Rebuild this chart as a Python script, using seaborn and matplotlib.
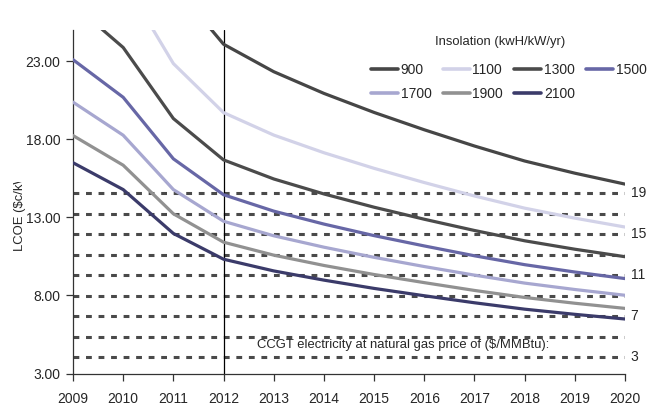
import matplotlib
matplotlib.use("Agg")
import matplotlib.pyplot as plt
from matplotlib.transforms import Bbox, TransformedBbox
from matplotlib.lines import Line2D
import pandas as pd
import seaborn as sns

# ---------------- data ----------------
years = list(range(2009, 2021))
insolation_levels = ["900", "1100", "1300", "1500", "1700", "1900", "2100"]
lcoe_900 = [38.50, 34.49, 27.92, 24.09, 22.33, 20.94, 19.72, 18.61, 17.57, 16.61, 15.83, 15.13]
lcoe_1100 = [31.50, 28.22, 22.85, 19.71, 18.27, 17.14, 16.14, 15.23, 14.37, 13.59, 12.95, 12.38]
lcoe_1300 = [26.65, 23.88, 19.33, 16.68, 15.46, 14.50, 13.65, 12.88, 12.16, 11.50, 10.96, 10.48]
lcoe_1500 = [23.10, 20.69, 16.75, 14.45, 13.40, 12.57, 11.83, 11.17, 10.54, 9.97, 9.50, 9.08]
lcoe_1700 = [20.38, 18.26, 14.78, 12.75, 11.82, 11.09, 10.44, 9.85, 9.30, 8.79, 8.38, 8.01]
lcoe_1900 = [18.24, 16.34, 13.23, 11.41, 10.58, 9.92, 9.34, 8.82, 8.32, 7.87, 7.50, 7.17]
lcoe_2100 = [16.50, 14.78, 11.97, 10.32, 9.57, 8.98, 8.45, 7.98, 7.53, 7.12, 6.79, 6.49]

gas_prices = [3, 5, 7, 9, 11, 13, 15, 17, 19]
ccgt_lcoe = [4.04, 5.35, 6.67, 7.98, 9.30, 10.61, 11.93, 13.24, 14.55]
labelled_prices = [3, 7, 11, 15, 19]

y_ticks = [3, 8, 13, 18, 23]
x_ticks = years
marker_year = 2012

colors = ["#464646", "#d2d2e8", "#4b4b4b", "#6767a6", "#a7a7d0", "#919191", "#3b3b6a"]

# ---------------- build table ----------------
series = [lcoe_900, lcoe_1100, lcoe_1300, lcoe_1500, lcoe_1700, lcoe_1900, lcoe_2100]
rows = []
for lvl, vals in zip(insolation_levels, series):
    for yr, v in zip(years, vals):
        rows.append({"year": yr, "lcoe": v, "insolation": lvl})
df = pd.DataFrame(rows)

sns.set_style("ticks")
plt.rcParams["font.family"] = ["Liberation Sans Narrow", "Liberation Sans", "DejaVu Sans"]
FS = 10.0
TXT = "#262626"

fig = plt.figure(figsize=(6.55, 4.08), dpi=100)
ax = fig.add_axes([73 / 655, 1 - 373.5 / 408, 552 / 655, (373.5 - 30) / 408])

# CCGT dashed reference lines
ax.hlines(ccgt_lcoe, years[0], years[-1], colors="#4a4a4a", linewidth=2.2,
          linestyles=(0, (1.9, 2.2)), zorder=1)
for p, v in zip(gas_prices, ccgt_lcoe):
    if p in labelled_prices:
        ax.annotate(str(p), xy=(years[-1], v), xytext=(4, 0), textcoords="offset points",
                    ha="left", va="center", fontsize=FS, color=TXT, annotation_clip=False)

ax.axvline(marker_year, color="black", linewidth=0.9, zorder=2)

sns.lineplot(data=df, x="year", y="lcoe", hue="insolation",
             hue_order=insolation_levels, palette=colors,
             linewidth=2.3, ax=ax, legend=False, zorder=3)

ax.text(2012.67, 4.85, "CCGT electricity at natural gas price of (\\$/MMBtu):",
        ha="left", va="center", fontsize=9.4, color=TXT)

ax.set_xlim(years[0], years[-1])
ax.set_ylim(3, 25)
ax.set_xticks(x_ticks)
ax.set_xticklabels([str(y) for y in x_ticks])
ax.set_yticks(y_ticks)
ax.set_yticklabels([f"{t:.2f}" for t in y_ticks])
ax.set_xlabel("")
ax.set_ylabel("")
ax.tick_params(axis="x", direction="out", length=5, width=0.9, pad=8,
               labelsize=FS, labelcolor=TXT, color="#333333")
ax.tick_params(axis="y", direction="out", length=5, width=0.9, pad=4,
               labelsize=FS, labelcolor=TXT, color="#333333")
for s in ["top", "right"]:
    ax.spines[s].set_visible(False)
for s in ["left", "bottom"]:
    ax.spines[s].set_color("#333333")
    ax.spines[s].set_linewidth(0.9)

# y label (clipped at the top as in the reference)
yl = fig.text(20 / 655, 1 - 251 / 408, "LCOE (\\$c/kWh)", rotation=90,
              ha="center", va="bottom", fontsize=9.4, color=TXT)
clip = TransformedBbox(Bbox([[0, 0], [1, 1 - 182 / 408]]), fig.transFigure)
yl.set_clip_box(clip)
yl.set_clip_on(True)

# legend title and legend, row-major order in 4 columns
fig.text(500 / 655, 1 - 42 / 408, "Insolation (kwH/kW/yr)", ha="center", va="center",
         fontsize=9.4, color=TXT)
handles = {lvl: Line2D([], [], color=c, linewidth=2.6) for lvl, c in zip(insolation_levels, colors)}
order = ["900", "1700", "1100", "1900", "1300", "2100", "1500"]
leg = ax.legend([handles[o] for o in order], order, ncol=4, frameon=False,
                fontsize=FS, loc="upper right",
                bbox_to_anchor=(647 / 655, 1 - 63 / 408),
                bbox_transform=fig.transFigure, handlelength=1.95,
                handletextpad=0.2, columnspacing=0.8, labelspacing=0.72,
                borderaxespad=0, borderpad=0.0)
for t in leg.get_texts():
    t.set_color(TXT)

fig.savefig("out.png", dpi=100)
